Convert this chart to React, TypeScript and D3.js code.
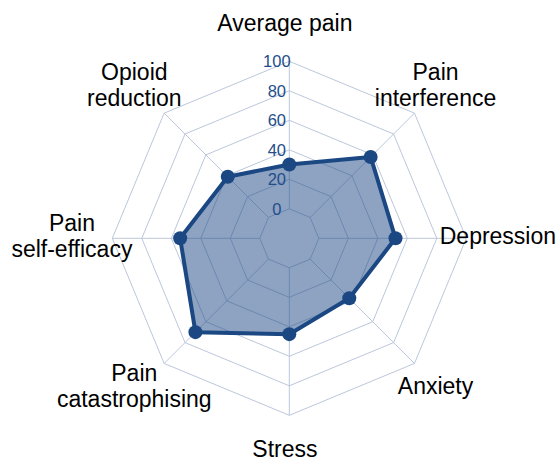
import * as d3 from "d3";
import React, { useEffect, useRef } from "react";

const categories = [
  ["Average pain"],
  ["Pain", "interference"],
  ["Depression"],
  ["Anxiety"],
  ["Stress"],
  ["Pain", "catastrophising"],
  ["Pain", "self-efficacy"],
  ["Opioid", "reduction"],
];
const scores = [30, 58, 52, 37.5, 45, 70, 54, 39];
const ringTicks = [0, 20, 40, 60, 80, 100];

const App = () => {
  const ref = useRef(null);

  const colorLine = "#1b4883";
  const colorGrid = "#bcc7dc";
  const colorTick = "#234d8a";

  useEffect(() => {
    const width = 560;
    const height = 459;
    const cx = 289.3;
    const cy = 238.3;

    // 0 ring sits off the centre, so start the scale below zero
    const r = d3.scaleLinear().domain([-20, 100]).range([0, 177]);
    const angle = d3
      .scaleLinear()
      .domain([0, categories.length])
      .range([0, 2 * Math.PI]);

    const pt = (i, v) => [
      Math.sin(angle(i)) * r(v),
      -Math.cos(angle(i)) * r(v),
    ];

    d3.select(ref.current).selectAll("*").remove();

    const svg = d3
      .select(ref.current)
      .append("svg")
      .attr("width", width)
      .attr("height", height)
      .style("position", "absolute")
      .style("left", 0)
      .style("top", 0)
      .style("font-family", "'Liberation Sans', Arial, sans-serif");

    const g = svg.append("g").attr("transform", `translate(${cx},${cy})`);

    const ringLine = d3.line().curve(d3.curveLinearClosed);

    // rings
    g.selectAll(".ring")
      .data(ringTicks)
      .enter()
      .append("path")
      .attr("class", "ring")
      .attr("d", (t) => ringLine(categories.map((_, i) => pt(i, t))))
      .attr("fill", "none")
      .attr("stroke", colorGrid)
      .attr("stroke-width", 1);

    // spokes
    g.selectAll(".spoke")
      .data(categories)
      .enter()
      .append("line")
      .attr("class", "spoke")
      .attr("x1", (_, i) => pt(i, ringTicks[0])[0])
      .attr("y1", (_, i) => pt(i, ringTicks[0])[1])
      .attr("x2", (_, i) => pt(i, ringTicks[ringTicks.length - 1])[0])
      .attr("y2", (_, i) => pt(i, ringTicks[ringTicks.length - 1])[1])
      .attr("stroke", colorGrid)
      .attr("stroke-width", 1);

    // data area
    const pts = scores.map((v, i) => pt(i, v));
    g.append("path")
      .attr("d", ringLine(pts))
      .attr("fill", colorLine)
      .attr("fill-opacity", 0.5)
      .attr("stroke", colorLine)
      .attr("stroke-width", 4)
      .attr("stroke-linejoin", "round");

    g.selectAll(".dot")
      .data(pts)
      .enter()
      .append("circle")
      .attr("cx", (d) => d[0])
      .attr("cy", (d) => d[1])
      .attr("r", 7)
      .attr("fill", colorLine);

    // tick labels
    g.selectAll(".tick-label")
      .data(ringTicks)
      .enter()
      .append("text")
      .attr("x", -12.5)
      .attr("y", (t) => -r(t))
      .attr("dy", "0.35em")
      .attr("text-anchor", "middle")
      .attr("font-size", 16.5)
      .attr("fill", colorTick)
      .text((t) => t);

    // category labels
    const labelR = 213;
    const lineH = 26;
    const labels = g
      .selectAll(".cat")
      .data(categories)
      .enter()
      .append("text")
      .attr("text-anchor", "middle")
      .attr("font-size", 23)
      .attr("fill", "#000")
      .attr(
        "transform",
        (_, i) =>
          `translate(${Math.sin(angle(i)) * labelR - 4.4},${
            -Math.cos(angle(i)) * labelR - 2.5
          })`
      );

    labels
      .selectAll("tspan")
      .data((d) => d.map((s, k) => ({ s, k, n: d.length })))
      .enter()
      .append("tspan")
      .attr("x", 0)
      .attr("y", (d) => (d.k - (d.n - 1) / 2) * lineH)
      .attr("dy", "0.35em")
      .text((d) => d.s);
  }, []);

  return <div ref={ref} />;
};

export default App;
